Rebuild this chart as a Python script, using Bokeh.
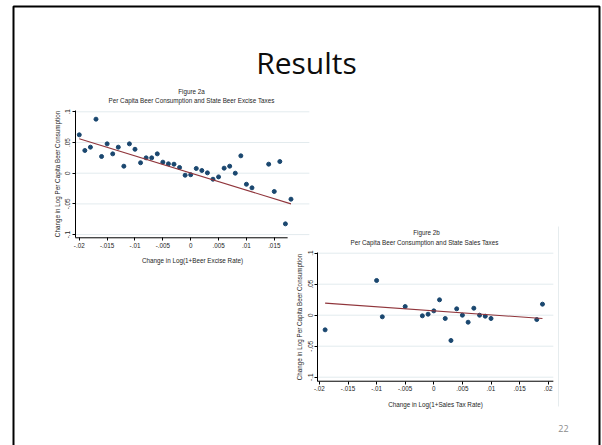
from bokeh.plotting import figure
from bokeh.models import Range1d, LinearAxis, FixedTicker, Label
from bokeh.embed import file_html
from bokeh.resources import INLINE

# ---------------- data ----------------
# Figure 2a: Per Capita Beer Consumption and State Beer Excise Taxes
excise_x = [-0.020, -0.019, -0.018, -0.017, -0.016, -0.015, -0.014, -0.013, -0.012, -0.011,
            -0.010, -0.009, -0.008, -0.007, -0.006, -0.005, -0.004, -0.003, -0.002, -0.001,
            0.000, 0.001, 0.002, 0.003, 0.004, 0.005, 0.006, 0.007, 0.008, 0.009,
            0.010, 0.011, 0.014, 0.015, 0.016, 0.017, 0.018]
excise_y = [0.0625, 0.037, 0.0424, 0.088, 0.0272, 0.0478, 0.0315, 0.0424, 0.0114, 0.0478,
            0.039, 0.017, 0.025, 0.025, 0.0315, 0.018, 0.0153, 0.0147, 0.0093, -0.0033,
            -0.0025, 0.0077, 0.0044, 0.0006, -0.0098, -0.006, 0.0082, 0.0114, 0.000, 0.0283,
            -0.018, -0.0238, 0.0147, -0.0298, 0.019, -0.0825, -0.0423]
excise_fit_x = [-0.020, 0.018]
excise_fit_y = [0.056, -0.050]

# Figure 2b: Per Capita Beer Consumption and State Sales Taxes
sales_x = [-0.019, -0.010, -0.009, -0.005, -0.002, -0.001, 0.000, 0.001, 0.002, 0.003,
           0.004, 0.005, 0.006, 0.007, 0.008, 0.009, 0.010, 0.018, 0.019]
sales_y = [-0.0236, 0.056, -0.0026, 0.014, -0.001, 0.0016, 0.007, 0.0248, -0.0053, -0.0408,
           0.0103, 0.000, -0.0113, 0.0113, 0.000, -0.0016, -0.0053, -0.007, 0.0178]
sales_fit_x = [-0.019, 0.019]
sales_fit_y = [0.0195, -0.0053]

x_ticks_a = [-0.02, -0.015, -0.01, -0.005, 0.0, 0.005, 0.01, 0.015]
x_tick_labels_a = ["-.02", "-.015", "-.01", "-.005", "0", ".005", ".01", ".015"]
x_ticks_b = [-0.02, -0.015, -0.01, -0.005, 0.0, 0.005, 0.01, 0.015, 0.02]
x_tick_labels_b = ["-.02", "-.015", "-.01", "-.005", "0", ".005", ".01", ".015", ".02"]
y_ticks = [-0.1, -0.05, 0.0, 0.05, 0.1]
y_tick_labels = ["-.1", "-.05", "0", ".05", ".1"]

slide_title = "Results"
title_a = "Figure 2a"
subtitle_a = "Per Capita Beer Consumption and State Beer Excise Taxes"
xlabel_a = "Change in Log(1+Beer Excise Rate)"
title_b = "Figure 2b"
subtitle_b = "Per Capita Beer Consumption and State Sales Taxes"
xlabel_b = "Change in Log(1+Sales Tax Rate)"
ylabel = "Change in Log Per Capita Beer Consumption"
page_number = "22"

# ---------------- layout / style ----------------
W, H = 602, 445          # canvas covers the whole window; data coords = pixel coords
NAVY = "#1a476f"
MAROON = "#90353b"
GRID = "#e3ebee"
TXT = "#1e1e1e"
FONT = "Liberation Sans"
FS = "6.3px"

p = figure(width=W, height=H, output_backend="svg", toolbar_location=None,
           x_range=Range1d(0, W), y_range=Range1d(H, 0),
           x_axis_type=None, y_axis_type=None, min_border=0,
           background_fill_color="white", border_fill_color="white")
p.outline_line_color = None
p.grid.visible = False


def add_ranges(name, x_px0, x_scale, y_px0, y_scale):
    # px = x_px0 + x_scale * v ; py = y_px0 - y_scale * v
    p.extra_x_ranges[name + "x"] = Range1d((0 - x_px0) / x_scale, (W - x_px0) / x_scale)
    p.extra_y_ranges[name + "y"] = Range1d((y_px0 - H) / y_scale, (y_px0 - 0) / y_scale)


def style_axis(ax, standoff, label_standoff):
    ax.major_tick_in = 0
    ax.major_tick_out = 3
    ax.minor_tick_line_color = None
    ax.axis_line_color = "black"
    ax.axis_line_width = 1
    ax.major_tick_line_color = "black"
    ax.major_label_text_font = FONT
    ax.major_label_text_font_size = FS
    ax.major_label_text_color = TXT
    ax.major_label_standoff = standoff
    ax.axis_label_text_font = FONT
    ax.axis_label_text_font_size = FS
    ax.axis_label_text_font_style = "normal"
    ax.axis_label_text_color = TXT
    ax.axis_label_standoff = label_standoff


def panel(name, xs, ys, fx, fy, xt, xtl, xlabel, yaxis_at, xaxis_at, grid_end, xline_end, ytop):
    xr, yr = name + "x", name + "y"
    # horizontal gridlines
    p.segment(x0=[yaxis_at] * len(y_ticks), x1=[grid_end] * len(y_ticks), y0=y_ticks, y1=y_ticks,
              line_color=GRID, line_width=1, x_range_name=xr, y_range_name=yr)
    xa = LinearAxis(x_range_name=xr, y_range_name=yr, fixed_location=xaxis_at,
                    bounds=(yaxis_at, grid_end), ticker=FixedTicker(ticks=xt), axis_label=xlabel)
    style_axis(xa, 2, 6)
    xa.axis_line_color = None
    xa.major_label_overrides = dict(zip(xt, xtl))
    p.add_layout(xa, "below")
    p.segment(x0=[yaxis_at], x1=[xline_end], y0=[xaxis_at], y1=[xaxis_at],
              line_color="black", line_width=1, x_range_name=xr, y_range_name=yr)
    ya = LinearAxis(x_range_name=xr, y_range_name=yr, fixed_location=yaxis_at,
                    bounds=(xaxis_at, ytop), ticker=FixedTicker(ticks=y_ticks), axis_label=ylabel)
    style_axis(ya, 2, 2)
    ya.major_label_orientation = "vertical"
    ya.major_label_overrides = dict(zip(y_ticks, y_tick_labels))
    p.add_layout(ya, "left")
    p.scatter(xs, ys, size=4, marker="circle", fill_color=NAVY, line_color=NAVY,
              x_range_name=xr, y_range_name=yr)
    p.line(fx, fy, line_color=MAROON, line_width=1.1, x_range_name=xr, y_range_name=yr)


add_ranges("a", 190.2, 5571.0, 172.7, 614.0)
add_ranges("b", 433.3, 5720.0, 314.7, 620.0)

panel("a", excise_x, excise_y, excise_fit_x, excise_fit_y, x_ticks_a, x_tick_labels_a, xlabel_a,
      -0.0207, -0.1052, 0.0213, 0.0174, 0.102)
panel("b", sales_x, sales_y, sales_fit_x, sales_fit_y, x_ticks_b, x_tick_labels_b, xlabel_b,
      -0.0203, -0.1065, 0.0209, 0.0209, 0.1015)

# faint outer frame edge of figure 2b image
p.segment(x0=[558], x1=[558], y0=[226], y1=[406], line_color="#e6ecee", line_width=1)

# slide frame
p.quad(left=[13], right=[599], top=[6], bottom=[470],
       fill_color=None, line_color="black", line_width=2)


def label(x, y, text, size, color=TXT, font=FONT, align="center"):
    p.add_layout(Label(x=x, y=y, text=text, text_align=align,
                       text_baseline="middle", text_font=font, text_font_size=size,
                       text_color=color))


label(306, 62, slide_title, "30px", color="#0d0d0d", font="Open Sans")
label(191, 90.5, title_a, FS)
label(191, 99.5, subtitle_a, FS)
label(426, 232, title_b, FS)
label(424, 241.5, subtitle_b, FS)
label(563, 428, page_number, "9px", color="#8c8c8c", font="Open Sans")

open("out.html", "w").write(file_html(p, INLINE))
